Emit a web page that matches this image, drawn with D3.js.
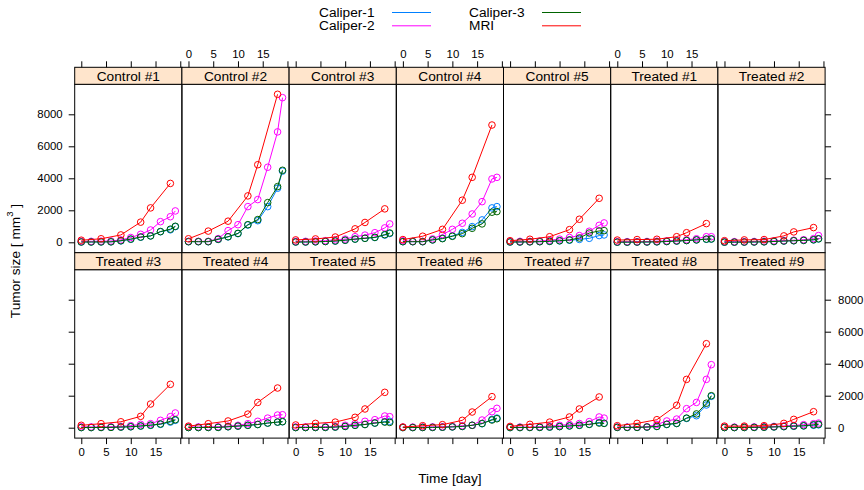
<!DOCTYPE html>
<html>
<head>
<meta charset="utf-8">
<script src="https://cdn.jsdelivr.net/npm/d3@7"></script>
<style>
html,body{margin:0;padding:0;background:#fff;}
svg{display:block;font-family:"Liberation Sans",Arial,Helvetica,sans-serif;}
</style>
</head>
<body>
<svg id="chart" width="864" height="490"></svg>
<script>
// ---- data ----
const subjects = ["Control #1","Control #2","Control #3","Control #4","Control #5","Treated #1","Treated #2",
                  "Treated #3","Treated #4","Treated #5","Treated #6","Treated #7","Treated #8","Treated #9"];
const caliperDays = [0,2,4,6,8,10,12,14,16,18,19];
const mriDays = [0,4,8,12,14,18];
const seriesNames = ["Caliper-1","Caliper-2","Caliper-3","MRI"];
const seriesColors = ["#0080ff","#ff00ff","#006400","#ff0000"];
const caliper1 = [
  [20,20,25,30,90,190,320,400,660,780,980],
  [40,40,40,180,340,540,1080,1350,2230,3380,4450],
  [20,20,30,50,80,130,200,250,300,450,550],
  [40,40,40,150,250,400,620,980,1400,2150,2230],
  [20,20,30,40,60,90,130,180,250,420,460],
  [10,10,15,20,30,50,80,110,150,190,200],
  [10,10,15,20,30,50,80,100,120,150,210],
  [10,10,15,20,40,60,100,150,210,350,460],
  [10,10,15,20,60,100,150,200,290,350,370],
  [10,10,15,20,40,80,150,200,290,380,400],
  [10,10,15,20,30,50,80,150,250,520,600],
  [10,10,15,20,40,70,110,150,210,330,280],
  [20,20,20,40,80,200,260,580,750,1420,1960],
  [10,10,15,20,30,50,70,90,110,150,180]
];
const caliper2 = [
  [60,60,70,80,150,300,500,770,1290,1600,1960],
  [60,60,60,230,730,1100,2230,2670,4690,6900,9040],
  [60,60,80,100,150,200,350,450,600,900,1150],
  [100,60,60,210,480,810,1190,1770,2540,3960,4060],
  [60,60,60,80,130,200,300,420,690,1060,1210],
  [40,40,40,50,70,90,120,160,220,350,350],
  [40,40,40,50,70,90,110,130,160,230,420],
  [60,50,50,60,80,130,210,250,460,690,920],
  [50,50,50,60,100,150,250,400,600,790,810],
  [50,50,50,60,80,150,250,400,500,730,690],
  [40,40,40,50,60,80,120,150,480,1000,1210],
  [40,40,40,60,100,150,200,260,380,670,600],
  [40,40,40,60,200,420,540,1190,1580,3020,3940],
  [40,40,40,50,60,80,110,140,190,250,290]
];
const caliper3 = [
  [20,20,25,30,100,200,330,400,670,820,1000],
  [40,40,40,190,350,560,1100,1420,2480,3480,4500],
  [20,20,30,50,80,130,200,250,310,480,580],
  [40,40,40,150,230,375,540,875,1150,1880,1920],
  [20,20,30,40,60,100,150,270,580,710,730],
  [10,10,15,20,30,50,80,110,150,200,210],
  [10,10,15,20,30,50,80,100,120,160,220],
  [10,10,15,20,40,60,110,160,230,400,500],
  [10,10,15,20,60,100,150,200,290,350,380],
  [10,10,15,20,40,80,150,200,290,350,330],
  [10,10,15,20,30,50,80,150,260,480,560],
  [10,10,15,20,40,70,110,150,210,290,270],
  [20,20,20,40,80,210,270,600,860,1530,2000],
  [10,10,15,20,30,50,70,100,120,180,210]
];
const mri = [
  [130,220,460,1260,2150,3680],
  [220,700,1320,2900,4850,9250],
  [150,210,330,840,1240,2090],
  [170,380,810,2630,4060,7330],
  [100,190,350,790,1440,2750],
  [140,170,190,350,600,1170],
  [100,150,170,400,650,920],
  [150,250,370,710,1480,2710],
  [100,250,420,850,1580,2480],
  [170,270,350,650,1170,2210],
  [40,125,190,460,980,1940],
  [80,210,350,670,1170,1920],
  [125,270,500,1400,3020,5250],
  [100,100,125,270,520,1000]
];
const xTicks = [0,5,10,15,20];
const xTickLabels = ["0","5","10","15",""];
const yTicks = [0,2000,4000,6000,8000];
const xDomain = [-1.33, 20.33];
const yDomain = [-650, 9875];

// ---- layout ----
const svg = d3.select("#chart");
const nCol = 7;
const left = 74.7, panelW = 107.2, stripH = 17, panelH = 168.4;
const rowTops = [67.3, 252.7];
const font = "Liberation Sans, Arial, Helvetica, sans-serif";

const x = d3.scaleLinear().domain(xDomain).range([0, panelW]);
const y = d3.scaleLinear().domain(yDomain).range([panelH, 0]);

const seriesX = [caliperDays, caliperDays, caliperDays, mriDays];
const seriesY = [caliper1, caliper2, caliper3, mri];

subjects.forEach((name, i) => {
  const row = Math.floor(i / nCol), col = i % nCol;
  const px = left + col * panelW;
  const stripTop = rowTops[row];
  const py = stripTop + stripH;
  const g = svg.append("g").attr("transform", `translate(${px},${py})`);

  // series
  const line = d3.line().x(d => x(d[0])).y(d => y(d[1]));
  [0,1,2,3].forEach(s => {
    const pts = seriesX[s].map((t, k) => [t, seriesY[s][i][k]]);
    g.append("path").attr("d", line(pts)).attr("fill", "none")
      .attr("stroke", seriesColors[s]).attr("stroke-width", 1);
    g.selectAll(null).data(pts).enter().append("circle")
      .attr("cx", d => x(d[0])).attr("cy", d => y(d[1])).attr("r", 3.3)
      .attr("fill", "none").attr("stroke", seriesColors[s]).attr("stroke-width", 1);
  });

  // panel frame
  g.append("rect").attr("x", 0).attr("y", 0).attr("width", panelW).attr("height", panelH)
    .attr("fill", "none").attr("stroke", "#000").attr("stroke-width", 1);

  // strip
  const sg = svg.append("g").attr("transform", `translate(${px},${stripTop})`);
  sg.append("rect").attr("width", panelW).attr("height", stripH)
    .attr("fill", "#ffe5cc").attr("stroke", "#000").attr("stroke-width", 1);
  sg.append("text").attr("x", panelW / 2).attr("y", stripH / 2 + 0.5)
    .attr("text-anchor", "middle").attr("dominant-baseline", "central")
    .attr("font-size", "13.7px").attr("fill", "#000").text(name);

  // x axes
  if (row === 0) {
    const ag = svg.append("g").attr("transform", `translate(${px},${stripTop})`);
    const ax = d3.axisTop(x).tickValues(xTicks).tickSize(6).tickPadding(3)
      .tickFormat((d, k) => (col % 2 === 1 ? xTickLabels[k] : ""));
    ag.call(ax);
    ag.select(".domain").remove();
  } else {
    const ag = svg.append("g").attr("transform", `translate(${px},${py + panelH})`);
    const ax = d3.axisBottom(x).tickValues(xTicks).tickSize(6).tickPadding(4)
      .tickFormat((d, k) => (col % 2 === 0 ? xTickLabels[k] : ""));
    ag.call(ax);
    ag.select(".domain").remove();
  }
  // y axes
  if (col === 0) {
    const ag = svg.append("g").attr("transform", `translate(${px},${py})`);
    ag.call(d3.axisLeft(y).tickValues(yTicks).tickSize(6).tickPadding(6)
      .tickFormat(d => row === 0 ? d3.format("d")(d) : ""));
    ag.select(".domain").remove();
  }
  if (col === nCol - 1) {
    const ag = svg.append("g").attr("transform", `translate(${px + panelW},${py})`);
    ag.call(d3.axisRight(y).tickValues(yTicks).tickSize(6).tickPadding(7)
      .tickFormat(d => row === 1 ? d3.format("d")(d) : ""));
    ag.select(".domain").remove();
  }
});

svg.selectAll(".tick text").attr("font-size", "11.4px").attr("font-family", font).attr("fill", "#000");
svg.selectAll(".tick line").attr("stroke", "#000");

// legend
const legend = svg.append("g");
const legendPos = [[319, 392, 12.5], [319, 392, 25.8], [469, 542, 12.5], [469, 542, 25.8]];
seriesNames.forEach((nm, s) => {
  const [tx, lx, ly] = legendPos[s];
  legend.append("text").attr("x", tx).attr("y", ly).attr("dominant-baseline", "central")
    .attr("font-size", "13.7px").attr("fill", "#000").text(nm);
  legend.append("line").attr("x1", lx).attr("x2", lx + 39).attr("y1", ly).attr("y2", ly)
    .attr("stroke", seriesColors[s]).attr("stroke-width", 1);
});

// axis titles
svg.append("text").attr("x", left + nCol * panelW / 2).attr("y", 478)
  .attr("text-anchor", "middle").attr("dominant-baseline", "central")
  .attr("font-size", "13.7px").attr("fill", "#000").text("Time [day]");

const yt = svg.append("text").attr("transform", "translate(15,261) rotate(-90)")
  .attr("text-anchor", "middle").attr("dominant-baseline", "central")
  .attr("font-size", "13.7px").attr("fill", "#000");
yt.append("tspan").text("Tumor size [ mm");
yt.append("tspan").attr("baseline-shift", "super").attr("font-size", "9.5px").text("3");
yt.append("tspan").text(" ]");
</script>
</body>
</html>
